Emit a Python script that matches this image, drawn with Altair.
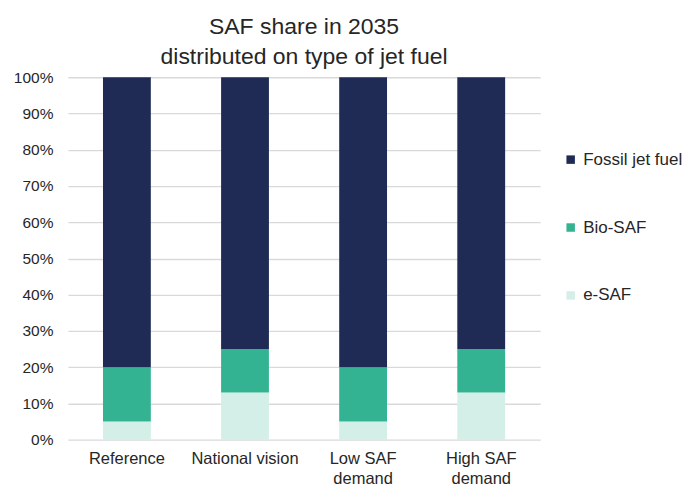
import altair as alt
import pandas as pd

scenarios = ["Reference", "National vision", "Low SAF demand", "High SAF demand"]
fuel_types = ["Fossil jet fuel", "Bio-SAF", "e-SAF"]
e_saf = [0.05, 0.13, 0.05, 0.13]
bio_saf = [0.15, 0.12, 0.15, 0.12]
fossil = [0.80, 0.75, 0.80, 0.75]
colors = ["#1F2B55", "#33B391", "#D4EFE7"]

rows = []
for i, s in enumerate(scenarios):
    for ft, vals, order in [("e-SAF", e_saf, 0), ("Bio-SAF", bio_saf, 1), ("Fossil jet fuel", fossil, 2)]:
        rows.append({"scenario": s, "fuel": ft, "share": vals[i], "order": order})
df = pd.DataFrame(rows)

font = "Liberation Sans"

chart = alt.Chart(df).mark_bar(stroke=None).encode(
    x=alt.X("scenario:N", sort=scenarios,
            scale=alt.Scale(paddingInner=0.595, paddingOuter=0.297),
            axis=alt.Axis(title=None, labelAngle=0, domain=False, ticks=False,
                          labelFontSize=16.5, labelColor="#262626", labelPadding=11,
                          labelLineHeight=20,
                          labelExpr="indexof(datum.label,'SAF demand')>=0 ? [replace(datum.label,' demand',''), 'demand'] : datum.label")),
    y=alt.Y("share:Q", stack="zero",
            scale=alt.Scale(domain=[0, 1]),
            axis=alt.Axis(title=None, format=".0%", values=[i / 10 for i in range(11)],
                          labelOverlap=False,
                          domain=False, ticks=False, labelFontSize=15.5, labelColor="#262626",
                          labelPadding=15, gridColor="#D9D9D9", gridWidth=1.3)),
    color=alt.Color("fuel:N", sort=fuel_types,
                    scale=alt.Scale(domain=fuel_types, range=colors),
                    legend=alt.Legend(title=None, orient="none", legendX=495, legendY=74,
                                      symbolType="square", symbolSize=72, symbolStrokeWidth=0,
                                      labelFontSize=17, labelColor="#262626", rowPadding=50,
                                      labelOffset=4)),
    order=alt.Order("order:Q"),
).properties(
    width=473, height=363,
    padding={"left": 5, "top": 8, "right": 0, "bottom": 0},
    title=alt.TitleParams(["SAF share in 2035", "distributed on type of jet fuel"],
                          fontSize=23, fontWeight="normal", color="#262626", lineHeight=30,
                          offset=1, font=font),
).configure(font=font).configure_view(stroke=None)

chart.save("out.html", embed_options={"renderer": "svg", "actions": False})
